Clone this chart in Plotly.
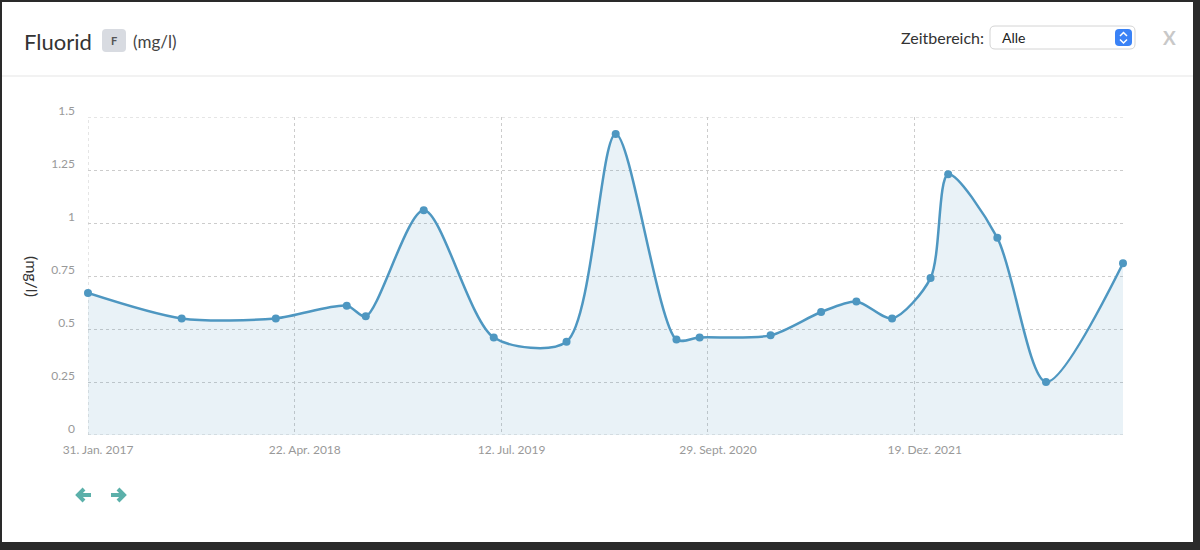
import plotly.graph_objects as go

# ---- data ----
dates = ["2017-01-31", "2017-08-21", "2018-03-12", "2018-08-12", "2018-09-22",
         "2019-01-25", "2019-06-25", "2019-11-29", "2020-03-14", "2020-07-23",
         "2020-09-11", "2021-02-11", "2021-05-31", "2021-08-15", "2021-10-31",
         "2022-01-22", "2022-03-01", "2022-06-15", "2022-09-28", "2023-03-13"]
values = [0.67, 0.55, 0.55, 0.61, 0.56,
          1.06, 0.46, 0.44, 1.42, 0.45,
          0.46, 0.47, 0.58, 0.63, 0.55,
          0.74, 1.23, 0.93, 0.25, 0.81]
tick_dates = ["2017-01-31", "2018-04-22", "2019-07-12", "2020-09-29", "2021-12-19"]
tick_text = ["31. Jan. 2017", "22. Apr. 2018", "12. Jul. 2019", "29. Sept. 2020", "19. Dez. 2021"]
y_ticks = [0, 0.25, 0.5, 0.75, 1, 1.25, 1.5]
y_tick_text = ["0", "0.25", "0.5", "0.75", "1", "1.25", "1.5"]

FONT = "Source Sans Pro, Lato, sans-serif"
LINE = "#4e97c1"
GRID = "#cccccc"

# plot area in pixels
L, R, T, B = 88, 1123, 117, 435
W, H = R - L, B - T


def px(x):
    return (x - L) / W


def py(y):
    return (B - y) / H


def rrect(x0, y0, x1, y1, r):
    pts = [
        f"M {px(x0 + r)},{py(y0)}",
        f"L {px(x1 - r)},{py(y0)}",
        f"Q {px(x1)},{py(y0)} {px(x1)},{py(y0 + r)}",
        f"L {px(x1)},{py(y1 - r)}",
        f"Q {px(x1)},{py(y1)} {px(x1 - r)},{py(y1)}",
        f"L {px(x0 + r)},{py(y1)}",
        f"Q {px(x0)},{py(y1)} {px(x0)},{py(y1 - r)}",
        f"L {px(x0)},{py(y0 + r)}",
        f"Q {px(x0)},{py(y0)} {px(x0 + r)},{py(y0)}",
        "Z",
    ]
    return " ".join(pts)


def poly(points):
    s = f"M {px(points[0][0])},{py(points[0][1])}"
    for x, y in points[1:]:
        s += f" L {px(x)},{py(y)}"
    return s


fig = go.Figure()
fig.add_trace(go.Scatter(
    x=dates, y=values,
    mode="lines+markers",
    line=dict(color=LINE, width=2.5, shape="spline", smoothing=0.8),
    marker=dict(color=LINE, size=8),
    fill="tozeroy",
    fillcolor="rgba(78,151,193,0.12)",
    cliponaxis=False,
    hoverinfo="x+y",
))

shapes = [
    # white panel over dark background
    dict(type="rect", xref="paper", yref="paper", x0=px(2), x1=px(1193), y0=py(2), y1=py(542),
         fillcolor="white", line=dict(width=0), layer="below"),
    # header separator
    dict(type="line", xref="paper", yref="paper", x0=px(2), x1=px(1193), y0=py(76), y1=py(76),
         line=dict(color="#eeeeee", width=1.5), layer="below"),
    # edge gridlines (plotly hides gridlines lying on the plot edges)
    dict(type="line", xref="x", yref="y", x0=tick_dates[0], x1=tick_dates[0], y0=y_ticks[0], y1=y_ticks[-1],
         line=dict(color=GRID, width=1, dash="3px,3px"), layer="below"),
    dict(type="line", xref="paper", yref="y", x0=0, x1=1, y0=y_ticks[0], y1=y_ticks[0],
         line=dict(color=GRID, width=1, dash="3px,3px"), layer="below"),
    dict(type="line", xref="paper", yref="y", x0=0, x1=1, y0=y_ticks[-1], y1=y_ticks[-1],
         line=dict(color=GRID, width=1, dash="3px,3px"), layer="below"),
    # F badge
    dict(type="path", xref="paper", yref="paper", path=rrect(102, 29, 126, 52, 4),
         fillcolor="#d8dbe1", line=dict(width=0), layer="above"),
    # select box
    dict(type="path", xref="paper", yref="paper", path=rrect(990, 26, 1135, 49, 5),
         fillcolor="white", line=dict(color="#d4d4d4", width=1), layer="above"),
    # select blue icon
    dict(type="path", xref="paper", yref="paper", path=rrect(1115, 29, 1132, 46, 4),
         fillcolor="#3a82f6", line=dict(width=0), layer="above"),
    dict(type="path", xref="paper", yref="paper", path=poly([(1120, 36), (1123.5, 32.5), (1127, 36)]),
         line=dict(color="white", width=1.5), layer="above"),
    dict(type="path", xref="paper", yref="paper", path=poly([(1120, 39.5), (1123.5, 43), (1127, 39.5)]),
         line=dict(color="white", width=1.5), layer="above"),
    # arrows
    dict(type="path", xref="paper", yref="paper", path=poly([(78, 495), (91, 495)]),
         line=dict(color="#5bb0aa", width=4), layer="above"),
    dict(type="path", xref="paper", yref="paper", path=poly([(84, 489), (78, 495), (84, 501)]),
         line=dict(color="#5bb0aa", width=4), layer="above"),
    dict(type="path", xref="paper", yref="paper", path=poly([(111, 495), (124, 495)]),
         line=dict(color="#5bb0aa", width=4), layer="above"),
    dict(type="path", xref="paper", yref="paper", path=poly([(118, 489), (124, 495), (118, 501)]),
         line=dict(color="#5bb0aa", width=4), layer="above"),
]

annotations = [
    dict(text="Fluorid", x=px(22), y=py(41), xanchor="left", yanchor="middle",
         font=dict(family=FONT, size=22, color="#333333")),
    dict(text="<b>F</b>", x=px(114), y=py(40.5), xanchor="center", yanchor="middle",
         font=dict(family=FONT, size=11, color="#555555")),
    dict(text="(mg/l)", x=px(131), y=py(42), xanchor="left", yanchor="middle",
         font=dict(family=FONT, size=17, color="#444444")),
    dict(text="Zeitbereich:", x=px(986), y=py(37), xanchor="right", yanchor="middle",
         font=dict(family=FONT, size=16, color="#333333")),
    dict(text="Alle", x=px(1000), y=py(38), xanchor="left", yanchor="middle",
         font=dict(family=FONT, size=14, color="#222222")),
    dict(text="<b>X</b>", x=px(1169), y=py(37), xanchor="center", yanchor="middle",
         font=dict(family=FONT, size=19, color="#c8c8c8")),
    dict(text="(mg/l)", x=px(33), y=py(276), xanchor="center", yanchor="middle", textangle=90,
         font=dict(family=FONT, size=16, color="#333333")),
]
for a in annotations:
    a.update(xref="paper", yref="paper", showarrow=False)

grid = dict(showgrid=True, gridcolor=GRID, gridwidth=1, griddash="3px,3px")

fig.update_layout(
    width=1200, height=550,
    margin=dict(l=L, r=1200 - R, t=T, b=550 - B),
    paper_bgcolor="#2a2a2a",
    plot_bgcolor="rgba(0,0,0,0)",
    showlegend=False,
    shapes=shapes,
    annotations=annotations,
    xaxis=dict(
        type="date",
        range=[dates[0], dates[-1]],
        tickmode="array", tickvals=tick_dates, ticktext=tick_text,
        tickfont=dict(family=FONT, size=12, color="#999999"),
        ticks="", ticklabelstandoff=6, ticklabelshift=10,
        zeroline=False, showline=False, fixedrange=True,
        **grid,
    ),
    yaxis=dict(
        range=[0, 1.5],
        tickmode="array", tickvals=y_ticks, ticktext=y_tick_text,
        tickfont=dict(family=FONT, size=12, color="#999999"),
        ticks="", ticklabelstandoff=12, ticklabelshift=-6,
        zeroline=False, showline=False, fixedrange=True,
        **grid,
    ),
)

fig.write_html("out.html")
